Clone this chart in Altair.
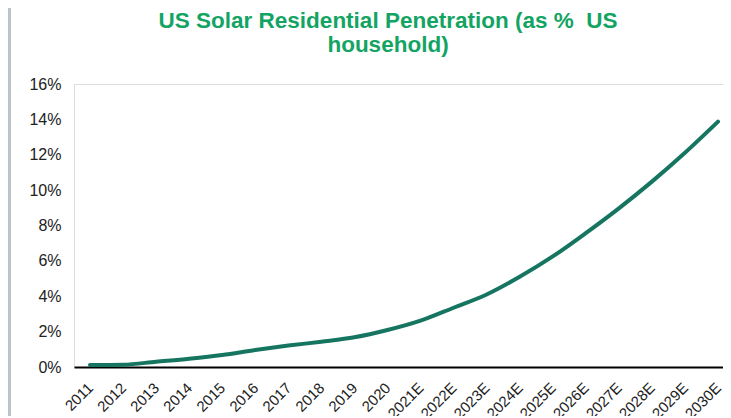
import altair as alt
import pandas as pd

years = ["2011", "2012", "2013", "2014", "2015", "2016", "2017", "2018", "2019", "2020",
         "2021E", "2022E", "2023E", "2024E", "2025E", "2026E", "2027E", "2028E", "2029E", "2030E"]
penetration = [0.11, 0.13, 0.30, 0.47, 0.68, 0.96, 1.21, 1.43, 1.68, 2.09,
               2.62, 3.35, 4.10, 5.10, 6.25, 7.57, 8.97, 10.48, 12.11, 13.87]
title_lines = ["US Solar Residential Penetration (as %\u00a0 US", "household)"]

df = pd.DataFrame({"idx": list(range(len(years))), "year": years, "value": penetration})
title_df = pd.DataFrame({"t": ["\n".join(title_lines)]})

label_array = "[" + ",".join("'" + y + "'" for y in years) + "]"

W, H = 649, 283
PAD_L, PAD_T, PAD_B = 66, 76, 49

line = alt.Chart(df).mark_line(
    color="#157560", strokeWidth=4, interpolate="monotone", strokeCap="round"
).encode(
    x=alt.X("idx:Q",
            scale=alt.Scale(domain=[-0.484, 19.151], nice=False, zero=False),
            axis=alt.Axis(title=None, values=list(range(len(years))),
                          labelExpr=label_array + "[datum.value]",
                          labelAngle=-45, labelAlign="right", labelBaseline="middle",
                          labelPadding=18, ticks=False, grid=False,
                          domain=True, domainColor="#000000", domainWidth=2,
                          labelFont="Liberation Sans", labelFontSize=15,
                          labelColor="#222222", labelOverlap=False)),
    y=alt.Y("value:Q",
            scale=alt.Scale(domain=[0, 16], nice=False),
            axis=alt.Axis(title=None, values=[0, 2, 4, 6, 8, 10, 12, 14, 16],
                          labelExpr="datum.value + '%'",
                          ticks=False, grid=False, domain=False,
                          labelPadding=13, labelFont="Liberation Sans",
                          labelFontSize=16, labelColor="#222222")),
)

strip = alt.Chart(title_df).mark_rect(color="#BCC3CA").encode(
    x=alt.value(-PAD_L), x2=alt.value(-PAD_L + 3),
    y=alt.value(-PAD_T), y2=alt.value(H + PAD_B),
)

title = alt.Chart(title_df).mark_text(
    font="Liberation Sans", fontSize=22.5, fontWeight="bold",
    color="#13A463", align="center", baseline="alphabetic",
    lineBreak="\n", lineHeight=24.5,
).encode(
    text="t:N",
    x=alt.value(388 - 8 - PAD_L),
    y=alt.value(27.5 - 8 - PAD_T),
)

chart = alt.layer(strip, line, title).properties(
    width=W, height=H,
    padding={"left": PAD_L, "top": PAD_T, "right": 0, "bottom": PAD_B},
    autosize=alt.AutoSizeParams(type="none"),
).configure_view(strokeWidth=0).configure(background="white")

chart.save("out.html", embed_options={"renderer": "svg", "actions": False})
